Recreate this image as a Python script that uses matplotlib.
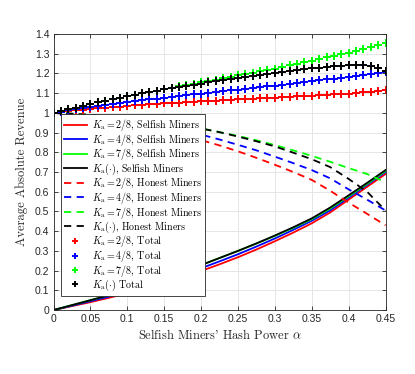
import matplotlib
matplotlib.use("Agg")
import matplotlib.pyplot as plt
import numpy as np

plt.rcParams['mathtext.fontset'] = 'cm'
plt.rcParams['axes.unicode_minus'] = False

# alpha grid for lines (step 0.025) and for total markers (step 0.01)
alpha_line = [0, 0.025, 0.05, 0.075, 0.1, 0.125, 0.15, 0.175, 0.2, 0.225,
              0.25, 0.275, 0.3, 0.325, 0.35, 0.375, 0.4, 0.425, 0.45]
alpha_tot = [round(0.01 * i, 2) for i in range(46)]

# selfish miners revenue
self_2 = [0, 0.02, 0.04, 0.062, 0.085, 0.11, 0.137, 0.166, 0.198, 0.232,
          0.268, 0.307, 0.349, 0.393, 0.44, 0.495, 0.56, 0.625, 0.69]
self_4 = [0, 0.022, 0.045, 0.068, 0.093, 0.12, 0.149, 0.179, 0.212, 0.247,
          0.283, 0.322, 0.363, 0.407, 0.453, 0.506, 0.57, 0.635, 0.70]
self_7 = [0, 0.025, 0.05, 0.075, 0.102, 0.131, 0.161, 0.193, 0.228, 0.264,
          0.30, 0.337, 0.376, 0.417, 0.461, 0.515, 0.577, 0.64, 0.705]
self_ad = [0, 0.025, 0.05, 0.075, 0.102, 0.131, 0.161, 0.193, 0.228, 0.264,
           0.30, 0.338, 0.378, 0.42, 0.465, 0.52, 0.582, 0.645, 0.71]

# honest miners revenue
hon_2 = [1.0, 0.992, 0.982, 0.97, 0.955, 0.937, 0.915, 0.89, 0.862, 0.835,
         0.805, 0.772, 0.737, 0.70, 0.66, 0.605, 0.545, 0.488, 0.43]
hon_4 = [1.0, 0.994, 0.986, 0.976, 0.964, 0.95, 0.933, 0.913, 0.89, 0.865,
         0.838, 0.81, 0.778, 0.745, 0.71, 0.668, 0.612, 0.56, 0.505]
hon_7 = [1.0, 0.996, 0.99, 0.982, 0.973, 0.963, 0.951, 0.937, 0.921, 0.903,
         0.883, 0.861, 0.837, 0.81, 0.782, 0.752, 0.72, 0.69, 0.648]
hon_ad = [1.0, 0.996, 0.99, 0.982, 0.973, 0.963, 0.951, 0.937, 0.921, 0.902,
          0.88, 0.856, 0.83, 0.798, 0.765, 0.725, 0.665, 0.60, 0.505]

# total revenue
tot_2 = [1.000, 1.005, 1.009, 1.013, 1.017, 1.020, 1.023, 1.026, 1.029, 1.032,
         1.035, 1.038, 1.040, 1.043, 1.045, 1.048, 1.050, 1.052, 1.054, 1.056,
         1.058, 1.060, 1.062, 1.064, 1.066, 1.068, 1.070, 1.072, 1.074, 1.076,
         1.078, 1.080, 1.082, 1.084, 1.086, 1.088, 1.090, 1.092, 1.094, 1.096,
         1.098, 1.101, 1.104, 1.107, 1.110, 1.114]
tot_4 = [1.000, 1.007, 1.013, 1.019, 1.025, 1.030, 1.035, 1.040, 1.045, 1.050,
         1.055, 1.060, 1.064, 1.069, 1.073, 1.078, 1.082, 1.086, 1.090, 1.094,
         1.098, 1.102, 1.106, 1.110, 1.114, 1.118, 1.122, 1.126, 1.130, 1.134,
         1.138, 1.143, 1.147, 1.152, 1.157, 1.162, 1.166, 1.170, 1.174, 1.179,
         1.183, 1.188, 1.192, 1.197, 1.202, 1.207]
tot_7 = [1.000, 1.009, 1.018, 1.027, 1.036, 1.045, 1.053, 1.061, 1.069, 1.077,
         1.085, 1.092, 1.099, 1.106, 1.113, 1.120, 1.127, 1.134, 1.141, 1.148,
         1.155, 1.162, 1.169, 1.176, 1.183, 1.190, 1.197, 1.204, 1.211, 1.218,
         1.225, 1.233, 1.241, 1.249, 1.257, 1.265, 1.273, 1.281, 1.289, 1.297,
         1.305, 1.314, 1.324, 1.334, 1.344, 1.355]
tot_ad = [1.000, 1.009, 1.018, 1.027, 1.036, 1.045, 1.053, 1.061, 1.069, 1.077,
          1.085, 1.092, 1.099, 1.106, 1.113, 1.119, 1.125, 1.131, 1.137, 1.143,
          1.149, 1.155, 1.161, 1.167, 1.173, 1.179, 1.184, 1.189, 1.194, 1.199,
          1.204, 1.209, 1.214, 1.218, 1.222, 1.226, 1.230, 1.234, 1.237, 1.240,
          1.242, 1.243, 1.242, 1.238, 1.228, 1.212]

colors = ['#ff0000', '#0000ff', '#00ff00', '#000000']
names = [r'$K_{\mathrm{a}}=2/8$', r'$K_{\mathrm{a}}=4/8$', r'$K_{\mathrm{a}}=7/8$', r'$K_{\mathrm{a}}(\cdot)$']
selfish = [self_2, self_4, self_7, self_ad]
honest = [hon_2, hon_4, hon_7, hon_ad]
totals = [tot_2, tot_4, tot_7, tot_ad]

fig = plt.figure(figsize=(4.15, 3.74), dpi=100)
ax = fig.add_axes([0.129, 0.171, 0.8, 0.738])

serif = ['cmr10', 'DejaVu Serif']

for c, n, s in zip(colors, names, selfish):
    ax.plot(alpha_line, s, color=c, lw=1.3, label=n + ', Selfish Miners')
for c, n, h in zip(colors, names, honest):
    ax.plot(alpha_line, h, color=c, lw=1.3, ls=(0, (4, 3)), label=n + ', Honest Miners')
for i, (c, n, t) in enumerate(zip(colors, names, totals)):
    lab = n + ' Total' if i == 3 else n + ', Total'
    ax.plot(alpha_tot, t, '+', color=c, ms=6, mew=1.4, label=lab)

ax.set_xlim(0, 0.45)
ax.set_ylim(0, 1.4)
xt = [0, 0.05, 0.1, 0.15, 0.2, 0.25, 0.3, 0.35, 0.4, 0.45]
yt = [round(0.1 * i, 1) for i in range(15)]
ax.set_xticks(xt)
ax.set_xticklabels(['0', '0.05', '0.1', '0.15', '0.2', '0.25', '0.3', '0.35', '0.4', '0.45'])
ax.set_yticks(yt)
ax.set_yticklabels(['0'] + [f'{v:g}' for v in yt[1:]])
ax.tick_params(direction='in', length=3, width=0.6, color='#262626',
               labelsize=7.5, labelcolor='#262626', top=True, right=True, pad=3)
for lbl in ax.get_xticklabels() + ax.get_yticklabels():
    lbl.set_family('Liberation Sans')
for sp in ax.spines.values():
    sp.set_color('#262626')
    sp.set_linewidth(0.6)
ax.grid(True, color='#e6e6e6', lw=0.7)
ax.set_axisbelow(True)

ax.set_xlabel(r"Selfish Miners' Hash Power $\alpha$", fontsize=9, family=serif, color='#262626', labelpad=3)
ax.set_ylabel('Average Absolute Revenue', fontsize=9, family=serif, color='#262626', labelpad=5)

leg = ax.legend(loc='upper left', bbox_to_anchor=(0.022, 0.71),
                prop={'family': serif, 'size': 7.2}, frameon=True, fancybox=False,
                edgecolor='#262626', framealpha=1, borderpad=0.3, labelspacing=-0.13,
                handlelength=2.3, handletextpad=0.5, borderaxespad=0, markerscale=0.8)
leg.get_frame().set_linewidth(0.6)

fig.savefig('out.png', dpi=100)
